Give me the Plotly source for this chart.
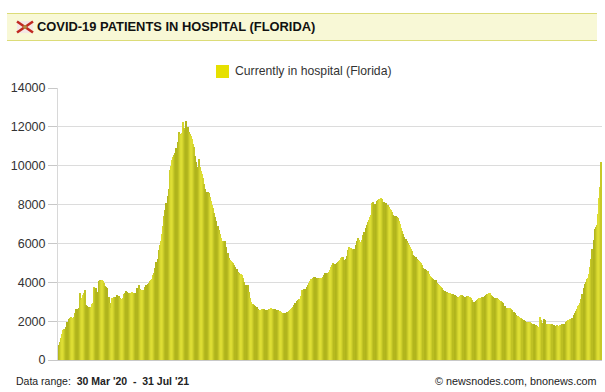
import math
import pandas as pd
import plotly.graph_objects as go

seg_a = [770,950,1130,1330,1545,1600,1610,1700,1960,2100,2160,2200,2150,2180,2200,2400,2620,2640,2680,3450,3090,3200,3350,3450,3600,2830,2780,2730,2680,2750,2900,2930,3760,3720,3700,3500,4070,4100,4050,4120,4070,3950,3800,3760,3700,3250,2950,2680]
seg_b = [3190,3200,3230,3250,3260,3350,3300,3190,3150,3140,3180,3400,3450,3550,3500,3450,3460,3450,3480,3440,3450,3460,3470,3700,3860,3650,3620,3600,3590,3600,3780,3860,3900,3980,4050,4120,4180]
seg_c = [4400,4480,4750,5040,5200,5650,5920,6100,6500,6900,7400,7700,8100,8450,8800,9800,10000,10300,10450,10550,10650,10900,11200,11740,11650,11590,11700,12250,11950,11850,12300,12000,11740,11650,11550,11400]
seg_d = [11100,10950,10500,10200,9940,10350,9950,9750,9550,9350,9050,8800,8650,8650,8600,8400,8200,8000,7800,7550,7350,7150,6900,6700,6500,6300,6150,6130,6150,6100,5800,5500,5250,5150,5120,5050,5000,4900,4800,4700,4550,4480,4400,4420,4380,4200,4000,3860,3850,3870]
seg_e = [3500,3200,2990,2900,2860,2820,2780,2720,2650,2580,2570,2560,2620,2600,2640,2580,2590,2560,2600,2620,2660,2640,2650,2600,2610,2570,2580,2530,2520,2480,2430,2420,2400,2440,2470,2480,2510,2560,2620,2680]
seg_f = [2750,2820,2950,3050,3090,3120,3160,3300,3580,3620,3640,3650,3750,3880,3960,4050,4150,4180,4230,4250,4270,4200,4220,4170,4200,4220,4190,4280,4380,4480,4500,4470,4540,4650,4780,4880,5000,4960,4920,5000,5050,5100,5150,5230,5300,5280,5150,5200,5350,5650,5820,5790,5780,5700,5680,5720,5900,6100,6280,6200,6050,6000,6200,6450,6600,6780,6950,7100,7220,7350]
seg_g = [7470,8100,8130,8050,8030,8200,8220,8280,8300,8340,8280,8150,8130,8080,8000,7980,7880,7780,7700,7620,7450,7420,7400,7360,7310,7180,7000,6800,6650,6470,6350,6220,6120,6020,5900,5800,5730,5600,5430,5350,5280,5180,5130,5080,5020,4980,4870,4760,4700,4650,4600,4560,4450,4320,4250,4200,4160,4120,4100,3980]
seg_h = [3920,3860,3800,3760,3690,3620,3570,3510,3480,3450,3420,3450,3410,3390,3380,3350,3300,3250,3190,3220,3300,3350,3340,3280,3260,3250,3270,3280,3260,3230,3180,3080,3010,2990,3020,3080,3130,3170,3190,3200,3230,3220,3290,3350,3390,3420,3450,3430,3350,3280,3240,3190,3180,3170,3120,3090,3050,3020,2990,2920]
seg_i = [2800,2700,2680,2690,2670,2680,2640,2560,2480,2400,2320,2280,2240,2210,2180,2150,2120,2060,2010,1960,1950,1960,1930,1950,1900,1860,1830,1800,1780,1730,1700,1680,2200,2080,1900,2110,2050,1850,1860,1850,1840,1850,1800,1840,1810,1770,1760,1780,1740,1750]
seg_j = [1790,1820,1850,1860,1830,1940,2000,2040,2060,2090,2120,2180,2300,2420,2520,2650,2780,2850,2950,3150,3400,3700,3900,4020,4150,4220,4450,4800,5200,5700,6200,6750,6850,6950,7500,8350,8900,10200]
in_hospital = seg_a+seg_b+seg_c+seg_d+seg_e+seg_f+seg_g+seg_h+seg_i+seg_j
dates = pd.date_range("2020-03-30", periods=len(in_hospital), freq="D")
y_ticks = [0,2000,4000,6000,8000,10000,12000,14000]
title_text = "COVID-19 PATIENTS IN HOSPITAL (FLORIDA)"
series_name = "Currently in hospital (Florida)"

W, H = 605, 392
ML, MR, MT, MB = 58, 3, 88, 32
PW, PH = W-ML-MR, H-MT-MB
px = lambda x: (x-ML)/PW
py = lambda y: 1-(y-MT)/PH

# banding colour of the bars (style only): the reference shows a soft light/dark stripe about 10 px wide
DARK, LIGHT = (176, 180, 28), (222, 222, 52)
def band(i):
    t = 0.5 - 0.5*math.cos(2*math.pi*(i-8)/8.93)
    return "rgb(%d,%d,%d)" % tuple(round(d+(l-d)*t) for d, l in zip(DARK, LIGHT))
bar_colors = [band(i) for i in range(len(in_hospital))]

fig = go.Figure(go.Bar(x=dates, y=in_hospital, name=series_name,
                       marker=dict(color=bar_colors, line_width=0), showlegend=False))

R = dict(xref="paper", yref="paper")
shapes = [
    dict(type="rect", **R, x0=px(7), x1=px(597), y0=py(40.5), y1=py(13.5), fillcolor="#f8f8d6", line=dict(width=0)),
    dict(type="line", **R, x0=px(7), x1=px(597), y0=py(13.5), y1=py(13.5), line=dict(color="#dcdc78", width=1)),
    dict(type="line", **R, x0=px(7), x1=px(597), y0=py(40.5), y1=py(40.5), line=dict(color="#dcdc78", width=1)),
    dict(type="rect", **R, x0=px(17), x1=px(33), y0=py(33), y1=py(21), fillcolor="#f4e8e4", line=dict(width=0)),
    dict(type="line", **R, x0=px(17), x1=px(33), y0=py(21.5), y1=py(32.5), line=dict(color="#c02820", width=2.5)),
    dict(type="line", **R, x0=px(17), x1=px(33), y0=py(32.5), y1=py(21.5), line=dict(color="#c02820", width=2.5)),
    dict(type="circle", **R, x0=px(23), x1=px(27), y0=py(29), y1=py(25), fillcolor="#b08a40", line=dict(width=0)),
    dict(type="rect", **R, x0=px(216), x1=px(229), y0=py(78), y1=py(65), fillcolor="#e6e000", line=dict(width=0)),
]
fn = "Liberation Sans"
def note(x, y, text, anchor="left", size=11, color="#222"):
    return dict(xref="paper", yref="paper", x=px(x), y=py(y), text=text, showarrow=False,
                xanchor=anchor, yanchor="middle", font=dict(family=fn, size=size, color=color))
annotations = [
    note(34.5, 27, f"<b>{title_text}</b>", size=12.9, color="#111"),
    note(232.5, 71, series_name, size=12.2, color="#333"),
    note(13.5, 381, "Data range:  <b>30 Mar '20  -  31 Jul '21</b>", size=10.5, color="#222"),
    note(599, 381, "© newsnodes.com, bnonews.com", anchor="right", size=10.8, color="#222"),
]
fig.update_layout(
    width=W, height=H, margin=dict(l=ML, r=MR, t=MT, b=MB, pad=0),
    paper_bgcolor="white", plot_bgcolor="white", shapes=shapes, annotations=annotations,
    font=dict(family=fn), bargap=0,
    xaxis=dict(range=[dates[0]-pd.Timedelta(hours=12), dates[-1]+pd.Timedelta(hours=12)], showticklabels=False,
               ticks="", showgrid=False, showline=True, linecolor="#c8c8c8", linewidth=1, zeroline=False),
    yaxis=dict(range=[0,14000], tickvals=y_ticks, tickformat="d", tickfont=dict(family=fn, size=12.5, color="#333"),
               ticks="outside", ticklen=9, tickcolor="#c8c8c8", tickwidth=1,
               gridcolor="#dcdcdc", gridwidth=1, showline=True, linecolor="#d8d8d8", linewidth=1, zeroline=False),
)
fig.write_html("out.html", config=dict(displayModeBar=False),
               post_script="document.body.style.margin='0';document.body.style.overflow='hidden';")
